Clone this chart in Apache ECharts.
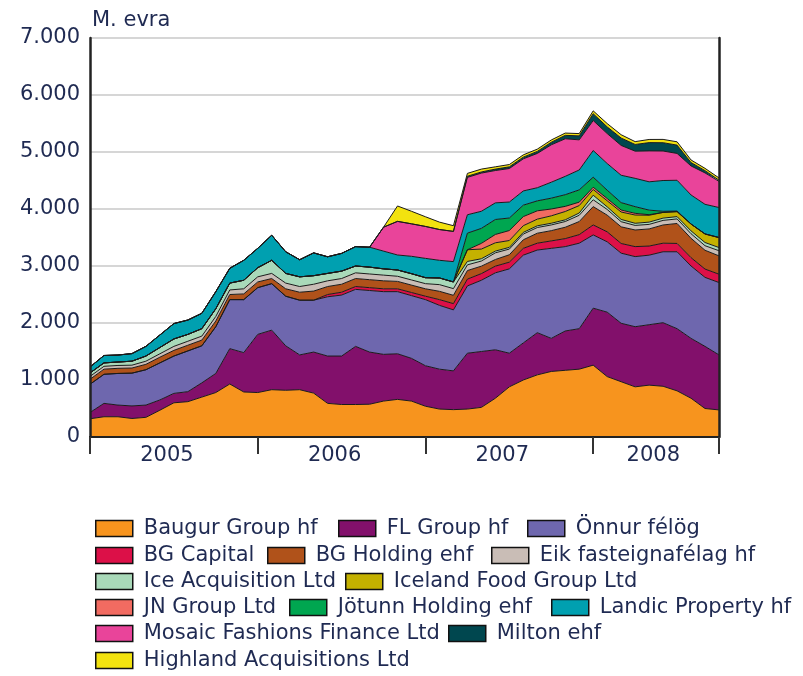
<!DOCTYPE html>
<html><head><meta charset="utf-8">
<script src="https://cdn.jsdelivr.net/npm/echarts@6/dist/echarts.min.js"></script>
<style>html,body{margin:0;padding:0;background:#fff}#c{width:803px;height:676px}</style>
</head><body><div id="c"></div>
<script>
// ---- data (monthly, Jan 2005 .. Oct 2008), millions of euros ----
const months = ['2005-01','2005-02','2005-03','2005-04','2005-05','2005-06','2005-07','2005-08','2005-09','2005-10','2005-11','2005-12',
  '2006-01','2006-02','2006-03','2006-04','2006-05','2006-06','2006-07','2006-08','2006-09','2006-10','2006-11','2006-12',
  '2007-01','2007-02','2007-03','2007-04','2007-05','2007-06','2007-07','2007-08','2007-09','2007-10','2007-11','2007-12',
  '2008-01','2008-02','2008-03','2008-04','2008-05','2008-06','2008-07','2008-08','2008-09','2008-10'];
const yearLabels = ['2005','2006','2007','2008'];
const yTickLabels = ['0','1.000','2.000','3.000','4.000','5.000','6.000','7.000'];
const seriesNames = ['Baugur Group hf','FL Group hf','Önnur félög','BG Capital','BG Holding ehf','Eik fasteignafélag hf',
  'Ice Acquisition Ltd','Iceland Food Group Ltd','JN Group Ltd','Jötunn Holding ehf','Landic Property hf',
  'Mosaic Fashions Finance Ltd','Milton ehf','Highland Acquisitions Ltd'];

const baugur = [320,355,355,325,345,470,600,620,700,780,930,790,780,830,820,830,770,590,570,570,575,630,660,630,540,490,480,490,520,680,880,1000,1090,1150,1170,1190,1260,1060,970,880,910,890,810,680,500,475];
const flGroup = [110,235,205,220,215,180,165,175,250,335,620,690,1020,1045,780,610,720,830,850,1020,915,820,800,750,710,700,680,980,980,850,590,650,740,580,690,710,1000,1130,1025,1055,1060,1115,1090,1050,1090,965];
const onnur = [495,510,555,575,620,650,655,715,650,820,860,930,820,815,870,960,910,1040,1070,1000,1080,1100,1090,1100,1160,1120,1070,1180,1250,1350,1480,1540,1450,1580,1480,1500,1285,1235,1230,1230,1220,1245,1350,1270,1210,1270];
const bgCapital = [0,0,0,0,0,0,0,0,0,0,0,0,0,0,0,0,0,40,50,50,50,50,50,55,60,100,110,120,117,117,117,120,120,130,140,150,175,175,170,175,160,150,146,146,146,146];
const bgHolding = [88,90,90,90,95,100,100,100,100,100,90,100,100,90,130,140,160,140,140,140,140,140,130,130,130,146,146,150,130,117,130,150,175,180,200,230,322,292,292,292,300,320,350,340,330,322];
const eik = [50,50,50,50,55,60,70,70,70,80,80,90,90,90,100,100,120,100,100,100,100,100,90,90,90,117,117,100,90,117,100,100,100,100,100,110,120,100,90,80,80,80,80,80,80,90];
const iceAcq = [60,60,60,70,90,110,130,120,130,135,120,150,160,230,170,170,150,130,130,120,120,110,110,110,105,117,117,60,40,30,30,30,30,30,30,40,80,46,40,37,40,40,40,50,56,56];
const icelandFood = [0,0,0,0,0,0,0,0,0,0,0,0,0,0,0,0,0,0,0,0,0,0,0,0,0,0,0,205,170,146,120,117,117,130,146,130,100,106,130,145,120,100,88,120,150,175];
const jnGroup = [0,0,0,0,0,0,0,0,0,0,0,0,0,0,0,0,0,0,0,0,0,0,0,0,0,0,0,0,100,146,175,160,146,120,90,60,40,40,35,30,10,0,0,0,0,0];
const jotunn = [0,0,0,0,0,0,0,0,0,0,0,0,0,0,0,0,0,0,0,0,0,0,0,0,0,0,0,292,263,263,220,200,175,190,205,215,176,146,130,117,80,20,10,0,0,0];
const landic = [105,130,123,133,170,220,270,252,270,300,260,350,340,440,380,300,400,292,311,340,350,311,263,305,339,310,357,322,300,292,280,250,230,280,322,350,468,468,480,497,497,540,540,510,520,527];
const mosaic = [0,0,0,0,0,0,0,0,0,0,0,0,0,0,0,0,0,0,0,0,0,420,590,570,560,540,530,656,670,567,588,563,602,656,659,528,526,526,523,477,542,517,471,509,551,459];
const milton = [0,0,0,0,0,0,0,0,0,0,0,0,0,0,0,0,0,0,0,0,0,0,0,0,0,0,0,20,20,25,30,30,35,45,60,70,120,117,130,117,146,146,146,60,40,20];
const highland = [0,0,0,0,0,0,0,0,0,0,0,0,0,0,0,0,0,0,0,0,0,0,270,220,170,130,100,50,50,40,40,40,40,40,40,40,50,58,58,50,55,58,58,45,40,40];

const seriesValues = [baugur, flGroup, onnur, bgCapital, bgHolding, eik, iceAcq, icelandFood, jnGroup, jotunn, landic, mosaic, milton, highland];

// ---- styles ----
const colors = ['#f7941e','#82106b','#6e67ae','#dc1048','#b0521a','#c9bdb6','#a9d9b9','#c4b100','#f26b61','#00a650','#00a0b0','#e9449a','#00474f','#f2e20f'];
const legendPos = [[95,518],[338,518],[527,518],[95,545],[267,545],[491,545],[95,571],[345,571],[95,597],[289,597],[551,597],[95,623],[448,623],[95,650]];
const textColor = '#1f2a52';
const FONT = 'DejaVu Sans';

const chart = echarts.init(document.getElementById('c'), null, {renderer:'canvas'});

const yearLabelPos = [5.5, 17.5, 29.5, 40.3];
const series = seriesNames.map((name, k) => ({
  name: name,
  type: 'line',
  stack: 'total',
  data: seriesValues[k],
  symbol: 'none',
  showSymbol: false,
  smooth: false,
  itemStyle: {color: colors[k]},
  lineStyle: {color: '#1a1a1a', width: 1},
  areaStyle: {color: colors[k], opacity: 1},
  emphasis: {disabled: true},
  xAxisIndex: 0,
  yAxisIndex: 0
}));

const legends = seriesNames.map((name, k) => ({
  data: [name],
  left: legendPos[k][0],
  top: legendPos[k][1],
  padding: 0,
  icon: 'rect',
  itemWidth: 37,
  itemHeight: 16,
  selectedMode: false,
  itemStyle: {borderColor: '#111', borderWidth: 1.5},
  textStyle: {fontFamily: FONT, fontSize: 21, color: textColor, padding: [0,0,0,6]}
}));

const option = {
  animation: false,
  backgroundColor: '#fff',
  textStyle: {fontFamily: FONT},
  grid: {left: 90, right: 84, top: 38, bottom: 239, containLabel: false, outerBoundsMode: 'none'},
  legend: legends,
  xAxis: [
    {
      type: 'category', data: months, boundaryGap: false, position: 'bottom', z: 10,
      splitLine: {show: false},
      axisLine: {show: true, lineStyle: {color: '#222', width: 2}},
      axisTick: {show: false}, axisLabel: {show: false}
    },
    {
      type: 'value', min: 0, max: months.length - 1, position: 'bottom', z: 10,
      splitLine: {show: false},
      axisLine: {show: false},
      axisTick: {show: true, length: 17, lineStyle: {color: '#333', width: 2}, customValues: [0, 12, 24, 36, months.length - 1]},
      axisLabel: {
        show: true, margin: 8, fontSize: 21, color: textColor, fontFamily: FONT,
        customValues: yearLabelPos,
        formatter: function (v) {
          let best = 0;
          for (let j = 0; j < yearLabelPos.length; j++) if (Math.abs(yearLabelPos[j] - v) < Math.abs(yearLabelPos[best] - v)) best = j;
          return yearLabels[best];
        }
      }
    },
    {
      type: 'value', min: 0, max: months.length - 1, position: 'top', z: 10,
      splitLine: {show: false}, axisTick: {show: false}, axisLabel: {show: false},
      axisLine: {show: true, lineStyle: {color: '#222', width: 2}}
    }
  ],
  yAxis: [
    {
      type: 'value', min: 0, max: 7000, interval: 1000, position: 'left', z: 0,
      name: 'M. evra', nameLocation: 'end', nameGap: 7,
      nameTextStyle: {align: 'left', fontSize: 21, color: textColor, fontFamily: FONT, padding: [0,0,0,2]},
      axisLine: {show: false}, axisTick: {show: false},
      splitLine: {show: true, lineStyle: {color: '#c8c8c8', width: 1.5}},
      axisLabel: {margin: 10, fontSize: 21, color: textColor, fontFamily: FONT,
        formatter: function (v) { return yTickLabels[Math.round(v / 1000)]; }}
    },
    {
      type: 'value', min: 0, max: 7000, position: 'left', z: 10,
      axisLine: {show: true, lineStyle: {color: '#222', width: 2.5}},
      axisTick: {show: false}, axisLabel: {show: false}, splitLine: {show: false}
    },
    {
      type: 'value', min: 0, max: 7000, position: 'right', z: 10,
      axisLine: {show: true, lineStyle: {color: '#222', width: 2.5}},
      axisTick: {show: false}, axisLabel: {show: false}, splitLine: {show: false}
    }
  ],
  series: series
};
chart.setOption(option);
</script>
</body></html>
